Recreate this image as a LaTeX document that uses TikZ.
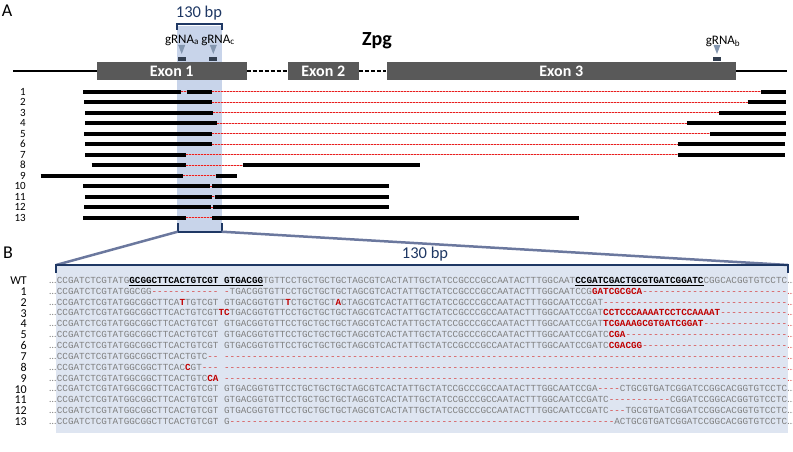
\documentclass[tikz,border=0pt]{standalone}
\usepackage{fontspec}
\setmainfont{Carlito}
\setmonofont{Liberation Mono}
\usetikzlibrary{calc}

\definecolor{exongray}{HTML}{595959}
\definecolor{shadeA}{HTML}{C8D4EA}
\definecolor{shadeB}{HTML}{DEE5F1}
\definecolor{navy}{HTML}{1F3864}
\definecolor{zoomline}{HTML}{6B789E}
\definecolor{guide}{HTML}{8497B0}
\definecolor{guidebox}{HTML}{333F50}
\definecolor{seqgray}{HTML}{7F7F7F}
\definecolor{mutred}{HTML}{C00000}
\definecolor{gapred}{HTML}{D64848}
\definecolor{dotred}{HTML}{E81E1E}

\begin{document}
\begin{tikzpicture}[x=1pt,y=-1pt,
  exon/.style={fill=exongray,text=white,font=\bfseries\fontsize{16}{16}\selectfont,
    inner sep=0pt,minimum height=18pt},
  bar/.style={line width=4pt},
  gapline/.style={dotred,line width=1.2pt,dash pattern=on 2pt off 1pt,
    preaction={draw,dotred!40,line width=1.2pt,solid}},
  brace/.style={navy,line width=2pt},
  seq/.style={anchor=base west,inner sep=0pt,font=\ttfamily\fontsize{9.29}{10}\selectfont},
  rowlab/.style={anchor=east,inner sep=0pt,font=\fontsize{11}{11}\selectfont},
  seqlab/.style={anchor=east,inner sep=0pt,font=\fontsize{12}{12}\selectfont},
  dots/.style={inner sep=0pt,font=\fontsize{10}{10}\selectfont}]

\useasboundingbox (0,0) rectangle (793,452);

% sequence pieces
\def\sq#1{\textcolor{seqgray}{#1}}
\def\mut#1{\textcolor{mutred}{\textbf{#1}}}
\def\ul#1{\underline{\textbf{#1}}}
\def\gap#1{\textcolor{gapred}{\foreach \k in {1,...,#1}{-}}}
\def\seqL{CCGATCTCGTATGGCGGCTTCACTGTCGT GTGACGG}
\def\seqM{TGTTCCTGCTGCTGCTAGCGTCACTATTGCTATCCGCCCGCCAATACTTTGGCAAT}
\def\seqR{CGGCACGGTGTCCTC}
\def\yB{283.4}
\def\dy{10.85}

%%%%% A
\fill[shadeA] (177,26) rectangle (221.5,232);
\node[font=\fontsize{18}{18}\selectfont] (labA) at (7,11) {A};
\node[navy,font=\fontsize{16.5}{16.5}\selectfont] (bpA) at (199,13) {130 bp};
\draw[brace] (177,30) -- (177,24) -- (221.5,24) -- (221.5,30);
\node[font=\bfseries\fontsize{20}{20}\selectfont] (zpg) at (377,41) {Zpg};

% gene model
\node[exon,minimum width=149.5pt] (ex1) at (171.75,71) {Exon 1};
\node[exon,minimum width=71.5pt] (ex2) at (323.25,71) {Exon 2};
\node[exon,minimum width=349.5pt] (ex3) at (561.25,71) {Exon 3};
\coordinate (g0) at (13,71);
\coordinate (g1) at (786.7,71);
\draw[line width=1.3pt] (g0) -- (ex1.west);
\draw[line width=1.3pt,dash pattern=on 4pt off 2pt] (ex1.east) -- (ex2.west);
\draw[line width=1.3pt,dash pattern=on 4pt off 2pt] (ex2.east) -- (ex3.west);
\draw[line width=1.3pt] (ex3.east) -- (g1);

% guides
\node[font=\fontsize{13}{13}\selectfont] (ga) at (182,40) {gRNA\textsubscript{a}};
\node[font=\fontsize{13}{13}\selectfont] (gc) at (218,40) {gRNA\textsubscript{c}};
\node[font=\fontsize{13}{13}\selectfont] (gb) at (723,41) {gRNA\textsubscript{b}};
\foreach \x in {181.7,213.3,717} {
  \fill[guide] ({\x-3.5},45) -- ({\x+3.5},45) -- (\x,54) -- cycle;
  \fill[guidebox] ({\x-4},57) rectangle ({\x+4},61);
}

% clones
\foreach \n in {1,...,13}
  \node[rowlab] (r\n) at (26,{91.7+10.5*(\n-1)}) {\n};

\draw[bar] (83.3,91.7) -- (181,91.7);
\draw[gapline] (181,91.7) -- (186.7,91.7);
\draw[bar] (186.7,91.7) -- (212.3,91.7);
\draw[gapline] (212.3,91.7) -- (761,91.7);
\draw[bar] (761,91.7) -- (786,91.7);
\foreach \n/\a/\b/\c/\d in {2/84/212.3/747.7/786, 3/85/213.3/719/786,
    4/85/217.3/687.3/786, 5/84/212.3/710/786, 6/85/212.3/677.7/785,
    7/85/185.7/677.7/785, 8/91.7/185.7/242.7/420, 9/40.7/183.3/215.7/237.3,
    10/83.3/210/212.3/389.3, 11/85/211.7/215/389.3, 12/84/210.7/212.7/389.3,
    13/83.3/185.7/212.3/579} {
  \pgfmathsetmacro\yy{91.7+10.5*(\n-1)}
  \draw[bar] (\a,\yy) -- (\b,\yy);
  \draw[gapline] (\b,\yy) -- (\c,\yy);
  \draw[bar] (\c,\yy) -- (\d,\yy);
}

\draw[brace] (177.7,223) -- (177.7,231.7) -- (221.7,231.7) -- (221.7,223);

%%%%% B
\fill[shadeB] (56,265) rectangle (788,433);
\coordinate (zl) at (177.7,231.7);
\coordinate (zr) at (221.7,231.7);
\coordinate (bl) at (56,265);
\coordinate (br) at (788,265);
\draw[zoomline,line width=2.5pt] (zl) -- (bl);
\draw[zoomline,line width=2.5pt] (zr) -- (br);
\draw[brace] (56,273) -- (bl) -- (br) -- (788,273);
\node[font=\fontsize{18}{18}\selectfont] (labB) at (8,253) {B};
\node[navy,font=\fontsize{16.5}{16.5}\selectfont] (bpB) at (425,254) {130 bp};

\foreach \n [count=\i from 0] in {WT,1,2,3,4,5,6,7,8,9,10,11,12,13} {
  \node[seqlab] (l\i) at (27,{280.7+\dy*\i}) {\n};
  \node[dots,anchor=base east,seqgray] (d\i) at (56.5,{\yB+\dy*\i}) {\ldots};
}

\node[seq] (s0) at (56.7,{\yB}) {\sq{CCGATCTCGTATG}\ul{GCGGCTTCACTGTCGT GTGACGG}\sq{\seqM}\ul{CCGATCGACTGCGTGATCGGATC}\sq{\seqR}};
\node[seq] (s1) at (56.7,{\yB+1*\dy}) {\sq{CCGATCTCGTATGGCGG}\gap{12}\sq{\ }\gap{1}\sq{TGACGG\seqM CCG}\mut{GATCGCGCA}\gap{26}};
\node[seq] (s2) at (56.7,{\yB+2*\dy}) {\sq{CCGATCTCGTATGGCGGCTTCA}\mut{T}\sq{TGTCGT GTGACGGTGTT}\mut{T}\sq{CTGCTGCT}\mut{A}\sq{CTAGCGTCACTATTGCTATCCGCCCGCCAATACTTTGGCAATCCGAT}\gap{33}};
\node[seq] (s3) at (56.7,{\yB+3*\dy}) {\sq{CCGATCTCGTATGGCGGCTTCACTGTCGT}\mut{TC}\sq{TGACGG\seqM CCGAT}\mut{CCTCCCAAAATCCTCCAAAAT}\gap{12}};
\node[seq] (s4) at (56.7,{\yB+4*\dy}) {\sq{\seqL\seqM CCGAT}\mut{TCGAAAGCGTGATCGGAT}\gap{15}};
\node[seq] (s5) at (56.7,{\yB+5*\dy}) {\sq{\seqL\seqM CCGATC}\mut{CGA}\gap{29}};
\node[seq] (s6) at (56.7,{\yB+6*\dy}) {\sq{\seqL\seqM CCGATC}\mut{CGACGG}\gap{26}};
\node[seq] (s7) at (56.7,{\yB+7*\dy}) {\sq{CCGATCTCGTATGGCGGCTTCACTGTC}\gap{2}\sq{\ }\gap{101}};
\node[seq] (s8) at (56.7,{\yB+8*\dy}) {\sq{CCGATCTCGTATGGCGGCTTCAC}\mut{C}\sq{GT}\gap{3}\sq{\ }\gap{101}};
\node[seq] (s9) at (56.7,{\yB+9*\dy}) {\sq{CCGATCTCGTATGGCGGCTTCACTGTC}\mut{CA}\sq{\ }\gap{101}};
\node[seq] (s10) at (56.7,{\yB+10*\dy}) {\sq{\seqL\seqM CCGA}\gap{4}\sq{CTGCGTGATCGGATC\seqR}};
\node[seq] (s11) at (56.7,{\yB+11*\dy}) {\sq{\seqL\seqM CCGATC}\gap{11}\sq{CGGATC\seqR}};
\node[seq] (s12) at (56.7,{\yB+12*\dy}) {\sq{\seqL\seqM CCGATC}\gap{3}\sq{TGCGTGATCGGATC\seqR}};
\node[seq] (s13) at (56.7,{\yB+13*\dy}) {\sq{CCGATCTCGTATGGCGGCTTCACTGTCGT G}\gap{69}\sq{ACTGCGTGATCGGATC\seqR}};

% trailing dots
\foreach \i in {1,...,9}
  \node[dots,anchor=base west,gapred] (e\i) at (s\i.base east) {\ldots};
\foreach \i in {0,10,11,12,13}
  \node[dots,anchor=base west,seqgray] (e\i) at (s\i.base east) {\ldots};

\end{tikzpicture}
\end{document}
